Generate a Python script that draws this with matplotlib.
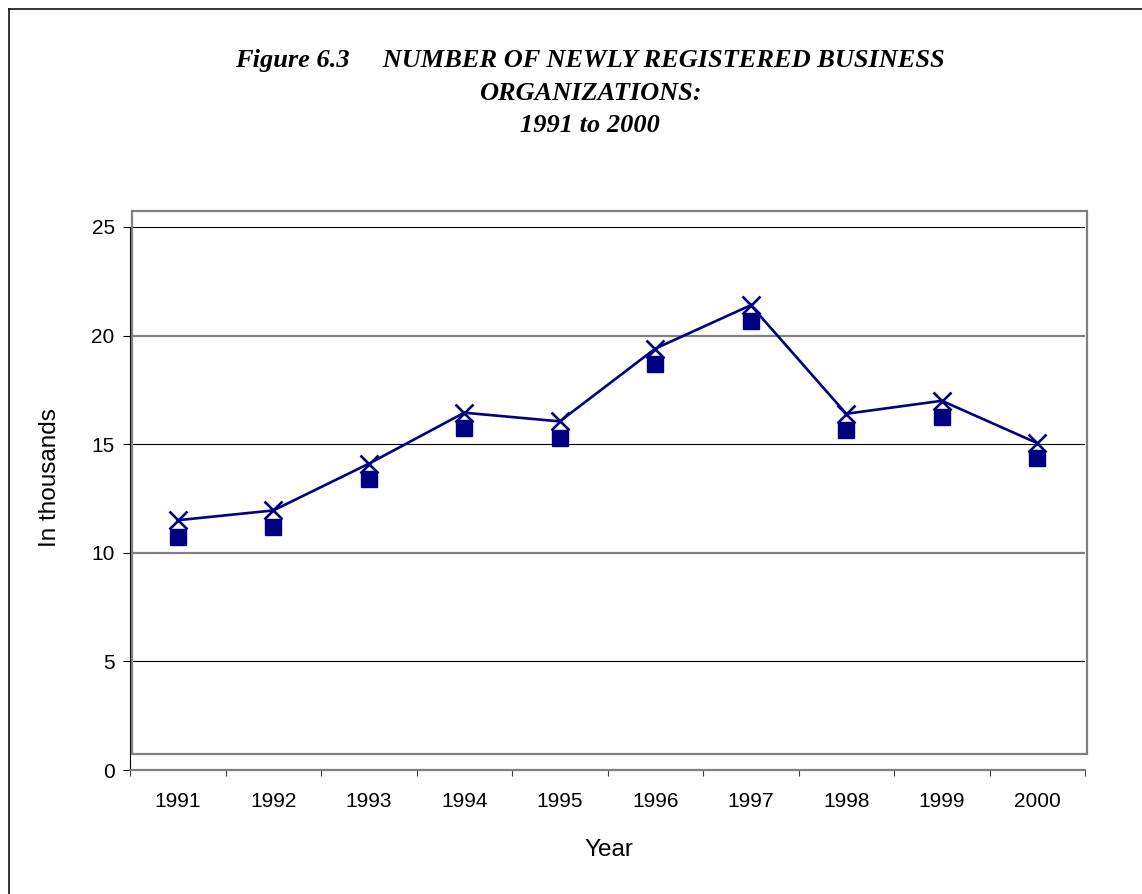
import matplotlib.pyplot as plt
from matplotlib.patches import Rectangle
from matplotlib.lines import Line2D

# Data (in thousands)
years = ['1991', '1992', '1993', '1994', '1995', '1996', '1997', '1998', '1999', '2000']
series_cross = [11.5, 11.95, 14.1, 16.45, 16.05, 19.4, 21.4, 16.4, 17.0, 15.05]
series_square = [10.75, 11.2, 13.4, 15.75, 15.3, 18.7, 20.65, 15.65, 16.25, 14.35]
y_ticks = [0, 5, 10, 15, 20, 25]

NAVY = '#000080'
GRAY = '#808080'

plt.rcParams['font.family'] = ['Liberation Sans', 'DejaVu Sans']

fig = plt.figure(figsize=(11.42, 8.94), dpi=100)
W, H = 1142, 894

# axes placed so that 0..25 runs from y=770 to y=227 px
ax = fig.add_axes([130 / W, (H - 770) / H, 955 / W, 543 / H])
xs = list(range(len(years)))

ax.plot(xs, series_square, linestyle='none', marker='s', markersize=12,
        color=NAVY, zorder=3)
ax.plot(xs, series_cross, color=NAVY, linewidth=1.9, marker='x',
        markersize=13.5, markeredgewidth=1.9, zorder=4)

ax.set_xlim(-0.5, len(years) - 0.5)
ax.set_ylim(0, 25)

# gridlines: alternating thin black / thicker gray like the original
for i, v in enumerate(y_ticks[1:]):
    if i % 2 == 0:
        ax.axhline(v, color='black', linewidth=0.8, zorder=1)
    else:
        ax.axhline(v, color=GRAY, linewidth=1.6, zorder=1)

ax.set_yticks(y_ticks)
ax.tick_params(axis='y', length=5, width=0.8, pad=6, labelsize=15, color='black')
ax.set_xticks(xs)
ax.set_xticklabels(years)
ax.tick_params(axis='x', which='major', length=0, pad=16, labelsize=15)
ax.set_xticks([x - 0.5 for x in xs] + [len(years) - 0.5], minor=True)
ax.tick_params(axis='x', which='minor', length=4.5, width=0.8, color='#404040')

for s in ['top', 'right']:
    ax.spines[s].set_visible(False)
ax.spines['left'].set_color('black')
ax.spines['left'].set_linewidth(0.8)
ax.spines['bottom'].set_color(GRAY)
ax.spines['bottom'].set_linewidth(1.6)

# gray plot-area frame (slightly offset, as in the source)
fig.patches.append(Rectangle((131.5 / W, (H - 754) / H), 955 / W, 543 / H,
                             transform=fig.transFigure, fill=False,
                             edgecolor=GRAY, linewidth=1.6, zorder=5))

# page border (left and top)
fig.lines.append(Line2D([8.5 / W, 8.5 / W], [0, (H - 8.5) / H],
                        transform=fig.transFigure, color='black', linewidth=1.1))
fig.lines.append(Line2D([8.5 / W, 1], [(H - 8.5) / H, (H - 8.5) / H],
                        transform=fig.transFigure, color='black', linewidth=1.1))

# title
title_lines = ['Figure 6.3     NUMBER OF NEWLY REGISTERED BUSINESS',
               'ORGANIZATIONS:',
               '1991 to 2000']
for i, t in enumerate(title_lines):
    fig.text(590 / W, (H - 60 - 33 * i) / H, t, ha='center', va='center',
             family='Liberation Serif', fontweight='bold', fontstyle='italic',
             fontsize=19)

fig.text(609 / W, (H - 850) / H, 'Year', ha='center', va='center', fontsize=17.5)
fig.text(50 / W, (H - 478) / H, 'In thousands', ha='center', va='center',
         rotation=90, fontsize=17.5)

fig.savefig('out.png', dpi=100)
